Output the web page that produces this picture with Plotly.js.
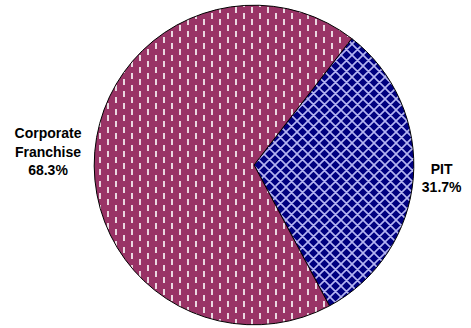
<!DOCTYPE html>
<html>
<head>
<meta charset="utf-8">
<script src="https://cdn.plot.ly/plotly-3.0.1.min.js"></script>
<style>html,body{margin:0;padding:0;background:#fff;}#chart{width:471px;height:328px;}</style>
</head>
<body>
<div id="chart"></div>
<script>
const labels = ["PIT", "Corporate<br>Franchise"];
const values = [31.7, 68.3];
const colors = ["#000080", "#993366"];
const patterns = ["x", "|"];

const trace = {
  type: "pie",
  labels: labels,
  values: values,
  sort: false,
  direction: "clockwise",
  rotation: 37.7,
  textposition: "outside",
  texttemplate: "<b>%{label}<br>%{percent:.1%}</b>",
  textfont: {family: "Arial, Liberation Sans, sans-serif", size: 14, color: "#000"},
  marker: {
    colors: colors,
    line: {color: "#000", width: 1},
    pattern: {
      shape: patterns,
      fgcolor: ["#c8c8ff", "#ffffff"],
      size: [11, 12],
      solidity: [0.15, 0.15],
      fillmode: "overlay"
    }
  },
  domain: {x: [0.2, 0.8786], y: [0, 1]},
  hoverinfo: "none",
  showlegend: false
};

const layout = {
  width: 471,
  height: 328,
  margin: {l: 0, r: 0, t: 4, b: 2},
  paper_bgcolor: "#fff",
  plot_bgcolor: "#fff",
  showlegend: false
};

function restylePattern(gd, idx, w, h, bgColor, d, stroke, sw) {
  const NS = "http://www.w3.org/2000/svg";
  const slices = gd.querySelectorAll(".slice path.surface");
  if (slices.length <= idx) return;
  const fill = slices[idx].style.fill || slices[idx].getAttribute("fill") || "";
  const m = fill.match(/#([^"')]+)/);
  if (!m) return;
  const pat = gd.querySelector('pattern[id="' + m[1] + '"]');
  if (!pat) return;
  while (pat.firstChild) pat.removeChild(pat.firstChild);
  pat.setAttribute("width", String(w));
  pat.setAttribute("height", String(h));
  pat.removeAttribute("patternTransform");
  const bg = document.createElementNS(NS, "rect");
  bg.setAttribute("width", String(w));
  bg.setAttribute("height", String(h));
  bg.setAttribute("fill", bgColor);
  pat.appendChild(bg);
  const p = document.createElementNS(NS, "path");
  p.setAttribute("d", d);
  p.setAttribute("stroke", stroke);
  p.setAttribute("stroke-width", String(sw));
  p.setAttribute("fill", "none");
  pat.appendChild(p);
}

Plotly.newPlot("chart", [trace], layout, {displayModeBar: false, staticPlot: true}).then(function (gd) {
  // styling only: staggered white dashes and a coarser light crosshatch
  restylePattern(gd, 0, 11, 11, colors[0],
    "M-2,-2L13,13M-2,9L2,13M9,-2L13,2M-2,13L13,-2M-2,2L2,-2M9,13L13,9", "#b4b4f2", 1.6);
  restylePattern(gd, 1, 16, 12, colors[1], "M4,1V7M12,7V13M12,-5V1", "#ffffff", 1.6);
});
</script>
</body>
</html>
